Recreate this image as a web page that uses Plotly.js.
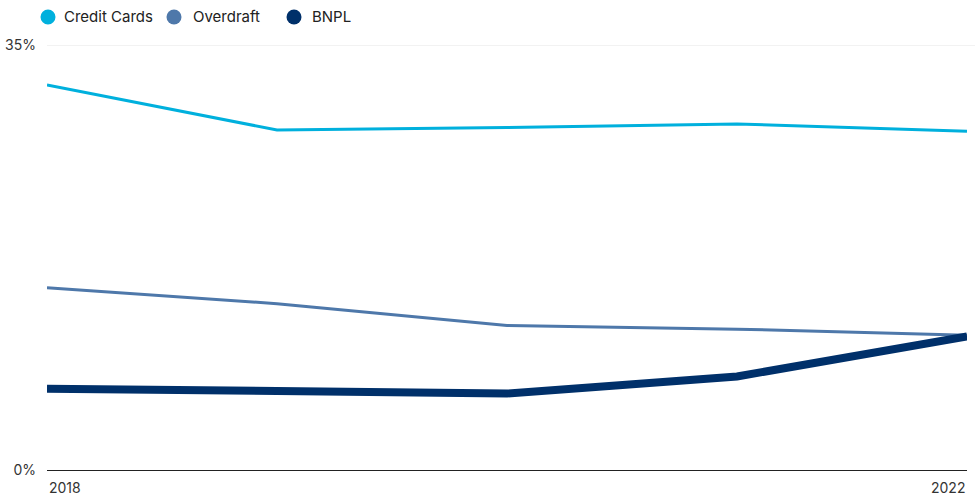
<!DOCTYPE html>
<html>
<head>
<meta charset="utf-8">
<script src="https://cdn.plot.ly/plotly-3.0.1.min.js"></script>
<style>
  html, body { margin: 0; padding: 0; background: #fff; }
  #chart { width: 975px; height: 497px; }
</style>
</head>
<body>
<div id="chart"></div>
<script>
// Share of respondents using each credit product, by year (%)
const years = ['2018', '2019', '2020', '2021', '2022'];
const creditCards = [31.7, 28.0, 28.2, 28.5, 27.9];
const overdraft = [15.0, 13.7, 11.9, 11.6, 11.1];
const bnpl = [6.7, 6.5, 6.3, 7.7, 11.0];

const seriesNames = ['Credit Cards', 'Overdraft', 'BNPL'];
const seriesColors = ['#00b0dd', '#4e78aa', '#00306a'];
const seriesWidths = [3, 3, 8];
const yTickVals = [0, 35];
const yTickText = ['0%', '35%'];
const xEdgeLabels = [years[0], years[years.length - 1]];

const FONT = 'Inter, "Open Sans", sans-serif';

const traces = [creditCards, overdraft, bnpl].map((vals, i) => ({
  type: 'scatter',
  mode: 'lines',
  x: years,
  y: vals,
  name: seriesNames[i],
  line: { color: seriesColors[i], width: seriesWidths[i], shape: 'linear' },
  showlegend: false,
  hoverinfo: 'x+y+name'
}));

// Legend row: dot + label for each series
const legendDotX = [48, 174, 294];
const legendTextX = [62, 191, 310];
const legendY = 17;
const W = 975, H = 497;
const M = { l: 47, r: 8, t: 45, b: 27 };
const plotW = W - M.l - M.r, plotH = H - M.t - M.b;
const px2paperX = px => (px - M.l) / plotW;
const px2paperY = py => 1 + (M.t - py) / plotH;

const shapes = seriesNames.map((n, i) => ({
  type: 'circle',
  xref: 'paper', yref: 'paper',
  xsizemode: 'pixel', ysizemode: 'pixel',
  xanchor: px2paperX(legendDotX[i]), yanchor: px2paperY(legendY),
  x0: -7.5, x1: 7.5, y0: -7.5, y1: 7.5,
  fillcolor: seriesColors[i],
  line: { width: 0 }
}));

// Top gridline runs on to the right edge of the page
shapes.push({
  type: 'line',
  xref: 'paper', yref: 'y',
  x0: 0, x1: px2paperX(W), y0: 35, y1: 35,
  line: { color: '#e6e6e6', width: 1 },
  layer: 'below'
});

const annotations = seriesNames.map((n, i) => ({
  text: n,
  xref: 'paper', yref: 'paper',
  x: px2paperX(legendTextX[i]), y: px2paperY(legendY),
  xanchor: 'left', yanchor: 'middle',
  showarrow: false,
  font: { family: FONT, size: 15, color: '#222' }
}));

// Year labels at both ends of the axis, aligned inward
xEdgeLabels.forEach((lab, i) => {
  annotations.push({
    text: lab,
    xref: 'paper', yref: 'paper',
    x: i === 0 ? 0 : 1, y: 0,
    yshift: -7,
    xanchor: i === 0 ? 'left' : 'right',
    yanchor: 'top',
    showarrow: false,
    font: { family: FONT, size: 14, color: '#333' }
  });
});

const layout = {
  width: W, height: H,
  margin: M,
  paper_bgcolor: '#fff',
  plot_bgcolor: '#fff',
  font: { family: FONT, size: 14, color: '#333' },
  showlegend: false,
  xaxis: {
    type: 'category',
    categoryorder: 'array',
    categoryarray: years,
    range: [0, years.length - 1],
    showticklabels: false,
    showgrid: false,
    zeroline: false,
    showline: true,
    linecolor: '#222',
    linewidth: 1,
    ticks: ''
  },
  yaxis: {
    range: [0, 35],
    tickvals: yTickVals,
    ticktext: yTickText,
    showgrid: true,
    gridcolor: '#e6e6e6',
    gridwidth: 1,
    zeroline: false,
    showline: false,
    ticks: '',
    ticklabelstandoff: 10,
    tickfont: { family: FONT, size: 14, color: '#333' }
  },
  shapes: shapes,
  annotations: annotations
};

Plotly.newPlot('chart', traces, layout, { displayModeBar: false, staticPlot: true });
</script>
</body>
</html>
